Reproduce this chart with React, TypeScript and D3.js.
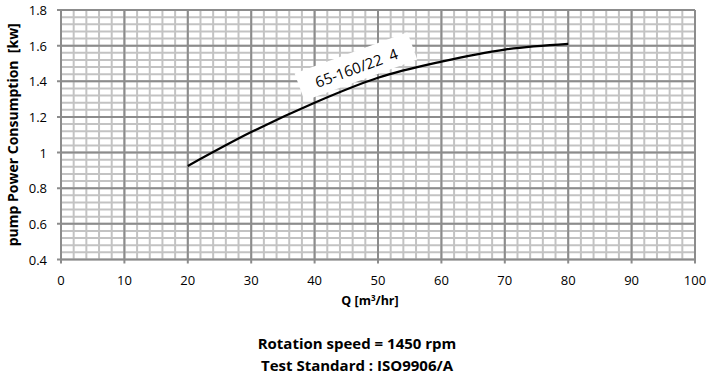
import React from 'react';
import * as d3 from 'd3';

// flow (m3/hr) vs power (kw)
const flowValues = [20, 30, 40, 50, 60, 70, 80];
const powerValues = [0.925, 1.115, 1.28, 1.42, 1.51, 1.578, 1.61];
const xTicks = [0, 10, 20, 30, 40, 50, 60, 70, 80, 90, 100];
const yTicks = [0.4, 0.6, 0.8, 1, 1.2, 1.4, 1.6, 1.8];
const curveName = '65-160/22\u00a0 4';
const footerLines = ['Rotation speed = 1450 rpm', 'Test Standard : ISO9906/A'];

const W = 713;
const H = 384;
const FONT = '"Open Sans", sans-serif';

export default function App() {
  const x = d3.scaleLinear().domain([0, 100]).range([61, 695]);
  const y = d3.scaleLinear().domain([0.4, 1.8]).range([259.5, 10]);

  const minorX = d3.range(0, 100.001, 2);
  const minorY = d3.range(0.4, 1.8001, 0.04);

  const line = d3
    .line<number>()
    .x((_, i) => x(flowValues[i]))
    .y((d) => y(d))
    .curve(d3.curveMonotoneX);

  const [x0, x1] = x.range();
  const [y0, y1] = y.range();

  // label sits just above the curve around Q=46
  const lx = x(46.6);
  const ly = y(1.475);

  return (
    <svg width={W} height={H} style={{ position: 'absolute', left: 0, top: 0, background: '#fff' }}>
      <rect width={W} height={H} fill="#fff" />
      {/* minor grid */}
      <g stroke="#c3c3c3" strokeWidth={2}>
        {minorX.map((v) => (
          <line key={'mx' + v} x1={x(v)} x2={x(v)} y1={y1} y2={y0} />
        ))}
        {minorY.map((v) => (
          <line key={'my' + v.toFixed(2)} x1={x0} x2={x1} y1={y(v)} y2={y(v)} />
        ))}
      </g>
      {/* major grid and ticks */}
      <g stroke="#8c8c8c" strokeWidth={2}>
        {xTicks.map((v) => (
          <line key={'Mx' + v} x1={x(v)} x2={x(v)} y1={y1} y2={y0 + 4} />
        ))}
        {yTicks.map((v) => (
          <line key={'My' + v} x1={x0 - 4} x2={x1} y1={y(v)} y2={y(v)} />
        ))}
      </g>
      {/* tick labels */}
      <g fontFamily={FONT} fontSize={13} fill="#000">
        {xTicks.map((v) => (
          <text key={'tx' + v} x={x(v)} y={285} textAnchor="middle">
            {v}
          </text>
        ))}
        {yTicks.map((v) => (
          <text key={'ty' + v} x={47} y={y(v) + 5} textAnchor="end">
            {v}
          </text>
        ))}
      </g>
      {/* curve label */}
      <g transform={`translate(${lx},${ly}) rotate(-20)`}>
        <rect x={-60} y={-16} width={120} height={29} fill="#fff" />
        <text x={0} y={5.5} textAnchor="middle" fontFamily={FONT} fontSize={15} fill="#000">
          {curveName}
        </text>
      </g>
      {/* curve */}
      <path d={line(powerValues) || ''} fill="none" stroke="#000" strokeWidth={2.2} />
      {/* axis titles */}
      <text x={370} y={305} textAnchor="middle" fontFamily={FONT} fontSize={12.5} fontWeight="bold">
        Q [m<tspan dy={-4} fontSize={8}>3</tspan>
        <tspan dy={4}>/hr]</tspan>
      </text>
      <text
        transform={`translate(18,${(y0 + y1) / 2}) rotate(-90)`}
        textAnchor="middle"
        fontFamily={FONT}
        fontSize={14}
        fontWeight="bold"
      >
        {'pump Power Consumption\u00a0 [kw]'}
      </text>
      {/* footer */}
      {footerLines.map((t, i) => (
        <text key={t} x={357} y={349 + i * 22} textAnchor="middle" fontFamily={FONT} fontSize={15} fontWeight="bold">
          {t}
        </text>
      ))}
    </svg>
  );
}
